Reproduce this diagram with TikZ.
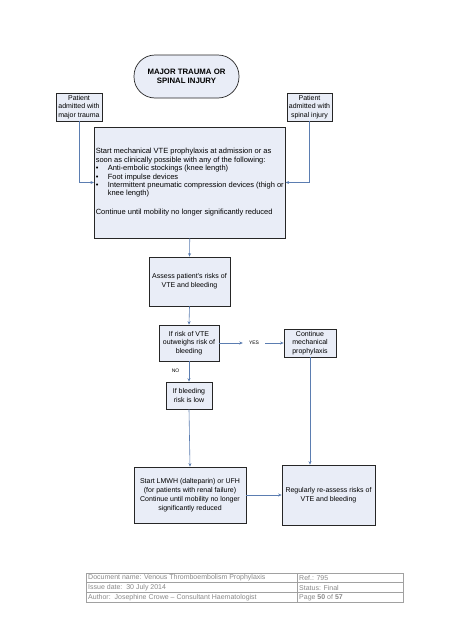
\documentclass[tikz,border=0pt]{standalone}
\usepackage{fontspec}
\setmainfont{Liberation Sans}
\usetikzlibrary{arrows.meta}
\definecolor{boxfill}{HTML}{E9EDF7}
\definecolor{arrowc}{HTML}{5B7DB1}
\definecolor{footc}{HTML}{8A8A8A}
\begin{document}
\begin{tikzpicture}[x=1pt,y=-1pt,
  box/.style={draw=black!85,fill=boxfill,line width=0.7pt,align=center,inner sep=1.5pt,
    font=\fontsize{7}{8.8}\selectfont},
  arr/.style={draw=arrowc,line width=0.6pt,-{Stealth[length=3.5pt,width=3pt]}},
  lbl/.style={font=\fontsize{5}{6}\selectfont,inner sep=6pt},
  foot/.style={font=\fontsize{7}{8}\selectfont,text=footc,anchor=west,inner sep=0pt}]
\fill[white] (0,0) rectangle (453,640);
\useasboundingbox (0,0) rectangle (453,640);

\node[box,rounded corners=21pt,minimum width=105pt,minimum height=43pt,
  font=\bfseries\fontsize{7.8}{9.3}\selectfont] (title) at (186.5,76.5) {MAJOR TRAUMA OR\\SPINAL INJURY};

\node[box,minimum width=46pt,minimum height=28pt] (pl) at (79,107) {Patient\\admitted with\\major trauma};
\node[box,minimum width=45pt,minimum height=28pt] (pr) at (309.5,107) {Patient\\admitted with\\spinal injury};

\node[box,align=left,minimum width=184.5pt,minimum height=111pt,
  font=\fontsize{7.5}{8.4}\selectfont] (big) at (189.75,182.5)
  {Start mechanical VTE prophylaxis at admission or as\\
   soon as clinically possible with any of the following:\\
   \makebox[12pt][l]{\textbullet}Anti-embolic stockings (knee length)\\
   \makebox[12pt][l]{\textbullet}Foot impulse devices\\
   \makebox[12pt][l]{\textbullet}Intermittent pneumatic compression devices (thigh or\\
   \hspace*{12pt}knee length)\\[10.6pt]
   Continue until mobility no longer significantly reduced};

\node[box,minimum width=81pt,minimum height=49pt] (assess) at (189.5,281.5) {Assess patient's risks of\\VTE and bleeding};
\node[box,minimum width=60pt,minimum height=36pt] (risk) at (189,343) {If risk of VTE\\outweighs risk of\\bleeding};
\node[box,minimum width=52pt,minimum height=28pt] (cont) at (310,343) {Continue\\mechanical\\prophylaxis};
\node[box,minimum width=46pt,minimum height=27pt] (bleed) at (189,395.5) {If bleeding\\risk is low};
\node[box,minimum width=112pt,minimum height=56pt] (lmwh) at (190,495) {Start LMWH (dalteparin) or UFH\\(for patients with renal failure)\\Continue until mobility no longer\\significantly reduced};
\node[box,minimum width=93pt,minimum height=60pt] (reg) at (328.5,495) {Regularly re-assess risks of\\VTE and bleeding};

\node[lbl] (yes) at (254,343) {YES};
\node[lbl,inner sep=0pt] (no) at (175.5,371) {NO};

\draw[arr] (pl.south) |- (big.west);
\draw[arr] (pr.south) |- (big.east);
\draw[arr] (big.south) -- (assess.north);
\draw[arr] (assess.south) -- (risk.north);
\draw[arr] (risk.east) -- (yes.west);
\draw[arr] (yes.east) -- (cont.west);
\draw[arr] (risk.south) -- (bleed.north);
\draw[arr] (bleed.south) -- (lmwh.north);
\draw[arr] (cont.south) -- (cont.south |- reg.north);
\draw[arr] (lmwh.east) -- (reg.west);

% footer table
\draw[footc!80,line width=0.6pt] (86,573) rectangle (403,602);
\draw[footc!80,line width=0.5pt] (86,582.7) -- (403,582.7) (86,592.3) -- (403,592.3) (297,573) -- (297,602);
\node[foot] (f1) at (88,578) {Document name: Venous Thromboembolism Prophylaxis};
\node[foot] (f2) at (88,587.5) {Issue date:\ \ 30 July 2014};
\node[foot] (f3) at (88,597.2) {Author:\ \ Josephine Crowe -- Consultant Haematologist};
\node[foot] (f4) at (299,578) {Ref.: 795};
\node[foot] (f5) at (299,587.5) {Status: Final};
\node[foot] (f6) at (299,597.2) {Page \textbf{50} of \textbf{57}};
\end{tikzpicture}
\end{document}
